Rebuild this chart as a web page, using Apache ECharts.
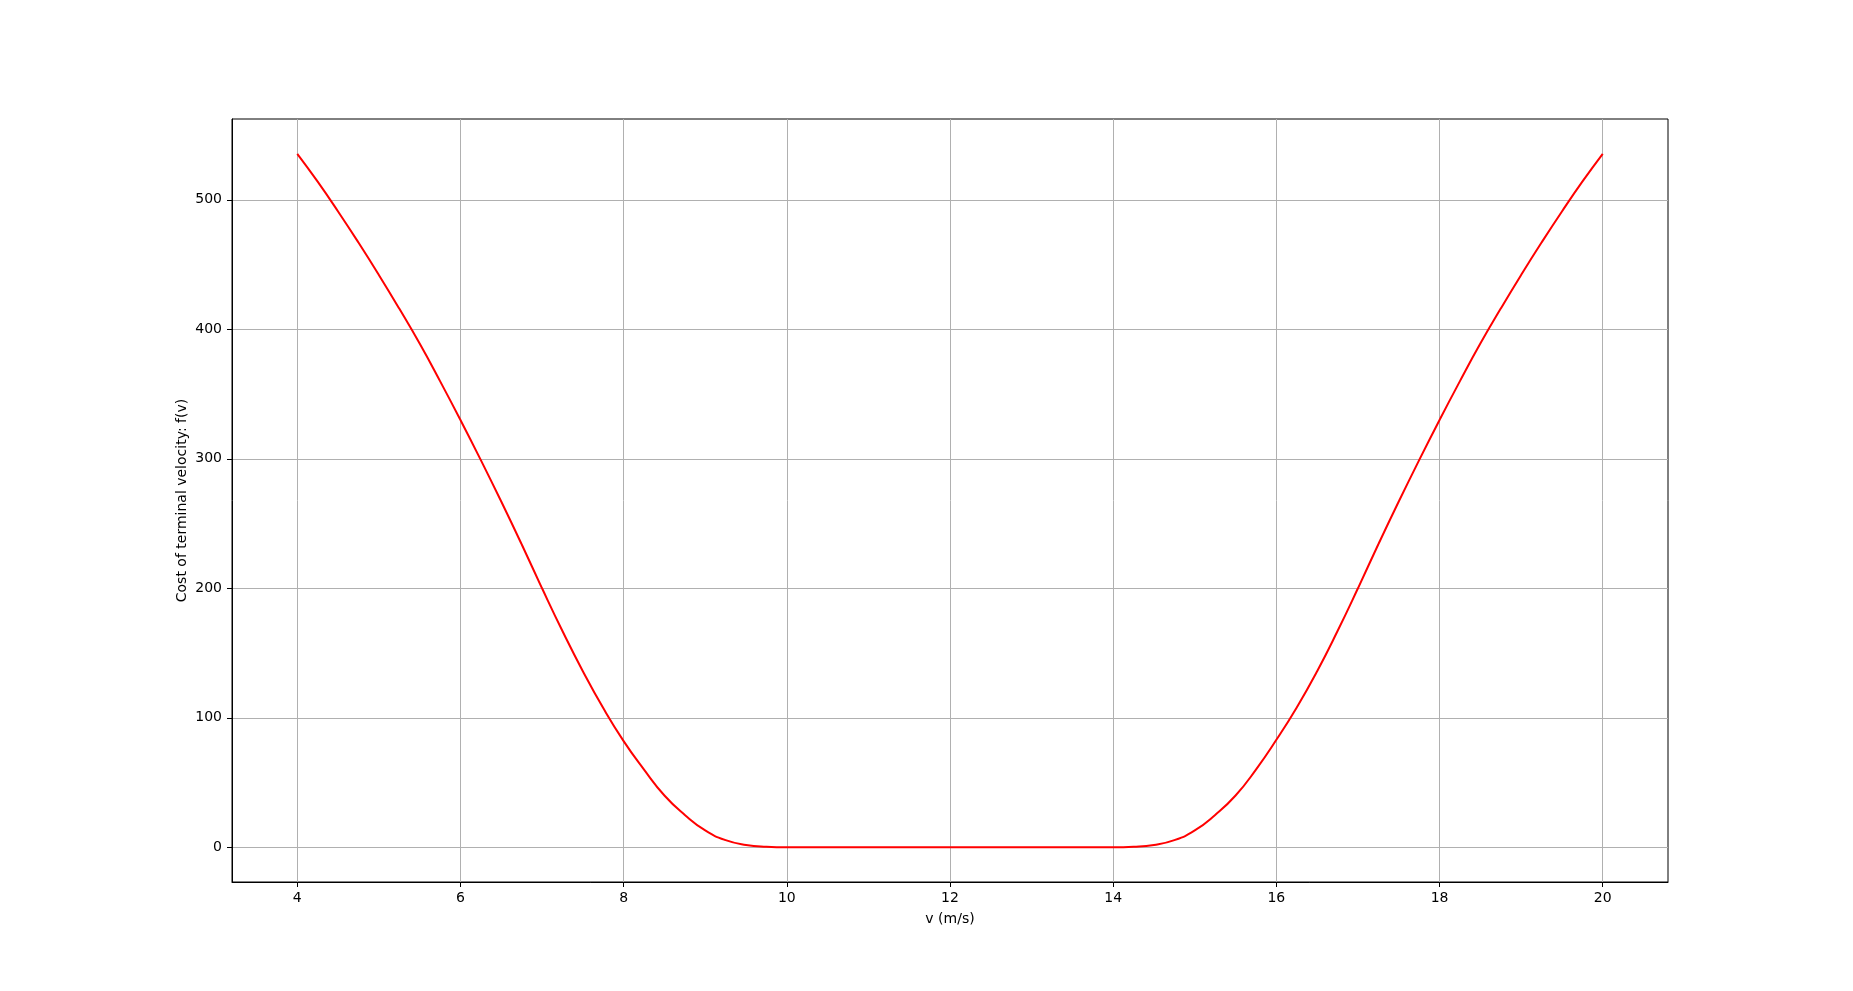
<!DOCTYPE html>
<html><head><meta charset="utf-8">
<script src="https://cdn.jsdelivr.net/npm/echarts@6/dist/echarts.min.js"></script>
<style>html,body{margin:0;padding:0;background:#fff}#c{width:1853px;height:991px}</style>
</head><body><div id="c"></div>
<script>
// velocity v (m/s)
const velocity = [
  4.00, 4.25, 4.50, 4.75, 5.00, 5.25, 5.50, 5.75, 6.00, 6.25, 6.50, 6.75,
  7.00, 7.25, 7.50, 7.75, 8.00, 8.25, 8.50, 8.75, 9.00, 9.25, 9.50, 9.75,
  10.00, 10.25, 10.50, 10.75, 11.00, 11.25, 11.50, 11.75, 12.00, 12.25, 12.50, 12.75,
  13.00, 13.25, 13.50, 13.75,
  14.00, 14.25, 14.50, 14.75, 15.00, 15.25, 15.50, 15.75, 16.00, 16.25, 16.50, 16.75,
  17.00, 17.25, 17.50, 17.75, 18.00, 18.25, 18.50, 18.75, 19.00, 19.25, 19.50, 19.75, 20.00
];
// cost f(v)
const cost = [
  535.5, 514, 491, 467, 442, 416, 389, 360, 330, 299, 267, 234,
  200, 167, 136, 107.5, 82, 60, 40, 25, 13, 5.5, 1.8, 0.4,
  0, 0, 0, 0, 0, 0, 0, 0, 0, 0, 0, 0,
  0, 0, 0, 0,
  0, 0.4, 1.8, 5.5, 13, 25, 40, 60, 83, 108, 136, 167,
  200, 234, 267, 299, 330, 360, 389, 416, 442, 467, 491, 514, 535.5
];
const xTicks = [4, 6, 8, 10, 12, 14, 16, 18, 20];
const yTicks = [0, 100, 200, 300, 400, 500];

const points = velocity.map((v, i) => [v, cost[i]]);
const font = 'DejaVu Sans';
const chart = echarts.init(document.getElementById('c'), null, {renderer: 'canvas'});
chart.setOption({
  animation: false,
  backgroundColor: '#ffffff',
  grid: {left: 232, top: 119, width: 1436, height: 763, show: true,
         borderColor: '#000000', borderWidth: 1, backgroundColor: 'transparent'},
  xAxis: {
    type: 'value', min: 3.2, max: 20.8,
    name: 'v (m/s)', nameLocation: 'middle', nameGap: 30, nameMoveOverlap: false,
    nameTextStyle: {color: '#000', fontFamily: font, fontSize: 14},
    axisLine: {onZero: false, lineStyle: {color: '#000', width: 1}},
    axisTick: {show: true, customValues: xTicks, length: 5, lineStyle: {color: '#000', width: 1}},
    axisLabel: {customValues: xTicks, color: '#000', fontFamily: font, fontSize: 14, margin: 9},
    splitLine: {show: true, lineStyle: {color: '#b0b0b0', width: 1}}
  },
  yAxis: {
    type: 'value', min: -26.8, max: 562.4,
    name: 'Cost of terminal velocity: f(v)', nameLocation: 'middle', nameGap: 43, nameRotate: 90,
    nameMoveOverlap: false,
    nameTextStyle: {color: '#000', fontFamily: font, fontSize: 14},
    axisLine: {show: true, onZero: false, lineStyle: {color: '#000', width: 1}},
    axisTick: {show: true, customValues: yTicks, length: 5, lineStyle: {color: '#000', width: 1}},
    axisLabel: {customValues: yTicks, color: '#000', fontFamily: font, fontSize: 14, margin: 10},
    splitLine: {show: true, lineStyle: {color: '#b0b0b0', width: 1}}
  },
  series: [{
    type: 'line', data: points, showSymbol: false, smooth: 0.5,
    lineStyle: {color: '#ff0000', width: 2}, itemStyle: {color: '#ff0000'}
  }]
});
</script></body></html>
